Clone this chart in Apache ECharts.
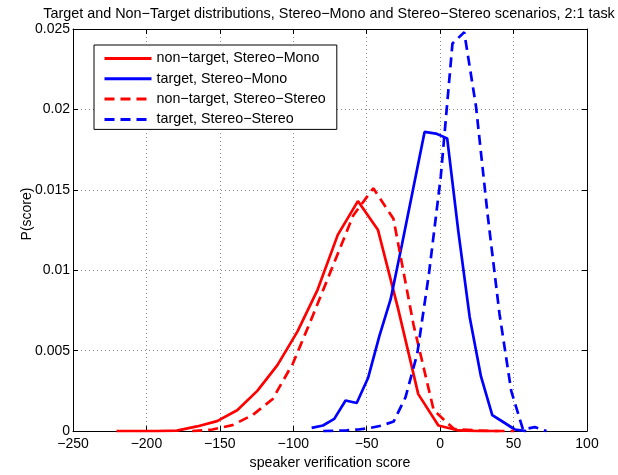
<!DOCTYPE html>
<html>
<head>
<meta charset="utf-8">
<script src="https://cdn.jsdelivr.net/npm/echarts@6/dist/echarts.min.js"></script>
<style>
  html, body { margin: 0; padding: 0; background: #fff; }
  #chart { width: 618px; height: 475px; }
</style>
</head>
<body>
<div id="chart"></div>
<script>
// Score distributions (probability per bin) for the 2:1 task
const nonTargetMonoX = [-220.4, -206.7, -193, -179.3, -165.6, -151.9, -138.2, -124.5, -110.8, -97.1, -83.4, -69.7, -56, -42.3, -28.6, -14.9, -1.2, 12.5, 26.2, 39.9];
const nonTargetMonoY = [0, 0, 0, 0.00003, 0.00029, 0.00062, 0.0013, 0.0025, 0.0041, 0.0062, 0.0088, 0.0122, 0.0143, 0.0125, 0.0076, 0.0023, 0.00035, 0.00004, 0, 0];

const targetMonoX = [-87.5, -79.8, -72.1, -64.4, -56.8, -49.1, -41.4, -33.7, -26, -18.3, -10.6, -2.9, 4.8, 12.4, 20.1, 27.8, 35.5, 43.2, 50.9, 58.6];
const targetMonoY = [0.0002, 0.00035, 0.00076, 0.0019, 0.00175, 0.0033, 0.0059, 0.0082, 0.0116, 0.0151, 0.0186, 0.0185, 0.0182, 0.0124, 0.0071, 0.0034, 0.001, 0.00055, 0.0001, 0];

const nonTargetStereoX = [-168.8, -155.1, -141.4, -127.7, -114, -100.3, -86.6, -72.9, -59.2, -45.5, -31.8, -18.1, -4.4, 9.3, 23, 36.7, 50.4];
const nonTargetStereoY = [0, 0.0001, 0.00037, 0.001, 0.002, 0.0042, 0.0072, 0.0103, 0.0134, 0.0151, 0.0132, 0.0066, 0.0013, 0.00014, 0.00005, 0, 0];

const targetStereoX = [-79.6, -71.6, -63.6, -55.6, -47.6, -39.6, -31.6, -23.6, -15.6, -7.6, 0.4, 8.4, 16.4, 24.4, 32.4, 40.4, 48.4, 56.4, 64.4, 72.4];
const targetStereoY = [0, 0.00002, 0.00005, 0.0001, 0.0002, 0.00035, 0.0006, 0.0021, 0.0048, 0.0098, 0.0158, 0.0241, 0.0248, 0.0202, 0.0134, 0.0073, 0.0025, 0.0001, 0.00025, 0];

const seriesNames = [
  'non\u2212target, Stereo\u2212Mono',
  'target, Stereo\u2212Mono',
  'non\u2212target, Stereo\u2212Stereo',
  'target, Stereo\u2212Stereo'
];

const titleText = 'Target and Non\u2212Target distributions, Stereo\u2212Mono and Stereo\u2212Stereo scenarios, 2:1 task';
const xAxisTitle = 'speaker verification score';
const yAxisTitle = 'P(score)';

const FONT = '"Liberation Sans", Arial, Helvetica, sans-serif';
const LINE_W = 2.7;

function pairs(xs, ys) {
  return xs.map((x, i) => [x, ys[i]]);
}

function minusSign(v) {
  return String(v).replace('-', '\u2212');
}

const gridLine = { show: true, lineStyle: { color: '#8a8a8a', width: 1, type: [1, 3] } };
const tickIn = { show: true, inside: true, length: 5, lineStyle: { color: '#000', width: 1 } };
const axisBlack = { show: true, onZero: false, lineStyle: { color: '#000', width: 1 } };

const chart = echarts.init(document.getElementById('chart'), null, { renderer: 'canvas' });

chart.setOption({
  animation: false,
  backgroundColor: '#fff',
  textStyle: { fontFamily: FONT },
  title: {
    text: titleText,
    left: 324,
    top: 2,
    textAlign: 'center',
    textStyle: { fontFamily: FONT, fontSize: 14.4, fontWeight: 'normal', color: '#000' }
  },
  grid: { left: 73, right: 31, top: 29, bottom: 41, containLabel: false },
  legend: {
    orient: 'vertical',
    left: 94,
    top: 45,
    padding: [6.5, 11, 3, 9],
    itemWidth: 47,
    itemHeight: 14,
    itemGap: 6.3,
    backgroundColor: '#fff',
    borderColor: '#000',
    borderWidth: 1,
    borderRadius: 0,
    // line samples only, no marker dot
    itemStyle: { opacity: 0 },
    lineStyle: { width: 3 },
    textStyle: { fontFamily: FONT, fontSize: 14.3, color: '#000' },
    data: seriesNames
  },
  xAxis: [
    {
      type: 'value', position: 'bottom', min: -250, max: 100, interval: 50,
      axisLine: axisBlack, axisTick: tickIn, splitLine: gridLine,
      axisLabel: { color: '#000', fontSize: 14, fontFamily: FONT, margin: 6, formatter: minusSign },
      name: xAxisTitle, nameLocation: 'middle', nameGap: 24,
      nameTextStyle: { color: '#000', fontSize: 14.2, fontFamily: FONT }
    },
    {
      type: 'value', position: 'top', min: -250, max: 100, interval: 50,
      axisLine: axisBlack, axisTick: tickIn, splitLine: { show: false },
      axisLabel: { show: false }
    }
  ],
  yAxis: [
    {
      type: 'value', position: 'left', min: 0, max: 0.025, interval: 0.005,
      axisLine: axisBlack, axisTick: tickIn, splitLine: gridLine,
      axisLabel: { color: '#000', fontSize: 14, fontFamily: FONT, margin: 3 }
    },
    {
      type: 'value', position: 'right', min: 0, max: 0.025, interval: 0.005,
      axisLine: axisBlack, axisTick: tickIn, splitLine: { show: false },
      axisLabel: { show: false }
    }
  ],
  graphic: [
    {
      type: 'text',
      x: 27, y: 214,
      rotation: Math.PI / 2,
      style: { text: yAxisTitle, fontSize: 14, fontFamily: FONT, fill: '#000', align: 'center', verticalAlign: 'middle' }
    }
  ],
  series: [
    {
      name: seriesNames[0], type: 'line', symbol: 'none', data: pairs(nonTargetMonoX, nonTargetMonoY),
      lineStyle: { color: '#ff0000', width: LINE_W, type: 'solid' }, itemStyle: { color: '#ff0000' }
    },
    {
      name: seriesNames[1], type: 'line', symbol: 'none', data: pairs(targetMonoX, targetMonoY),
      lineStyle: { color: '#0000ff', width: LINE_W, type: 'solid' }, itemStyle: { color: '#0000ff' }
    },
    {
      name: seriesNames[2], type: 'line', symbol: 'none', data: pairs(nonTargetStereoX, nonTargetStereoY),
      lineStyle: { color: '#ff0000', width: LINE_W, type: [10, 6] }, itemStyle: { color: '#ff0000' }
    },
    {
      name: seriesNames[3], type: 'line', symbol: 'none', data: pairs(targetStereoX, targetStereoY),
      lineStyle: { color: '#0000ff', width: LINE_W, type: [10, 6] }, itemStyle: { color: '#0000ff' }
    }
  ]
});
</script>
</body>
</html>
